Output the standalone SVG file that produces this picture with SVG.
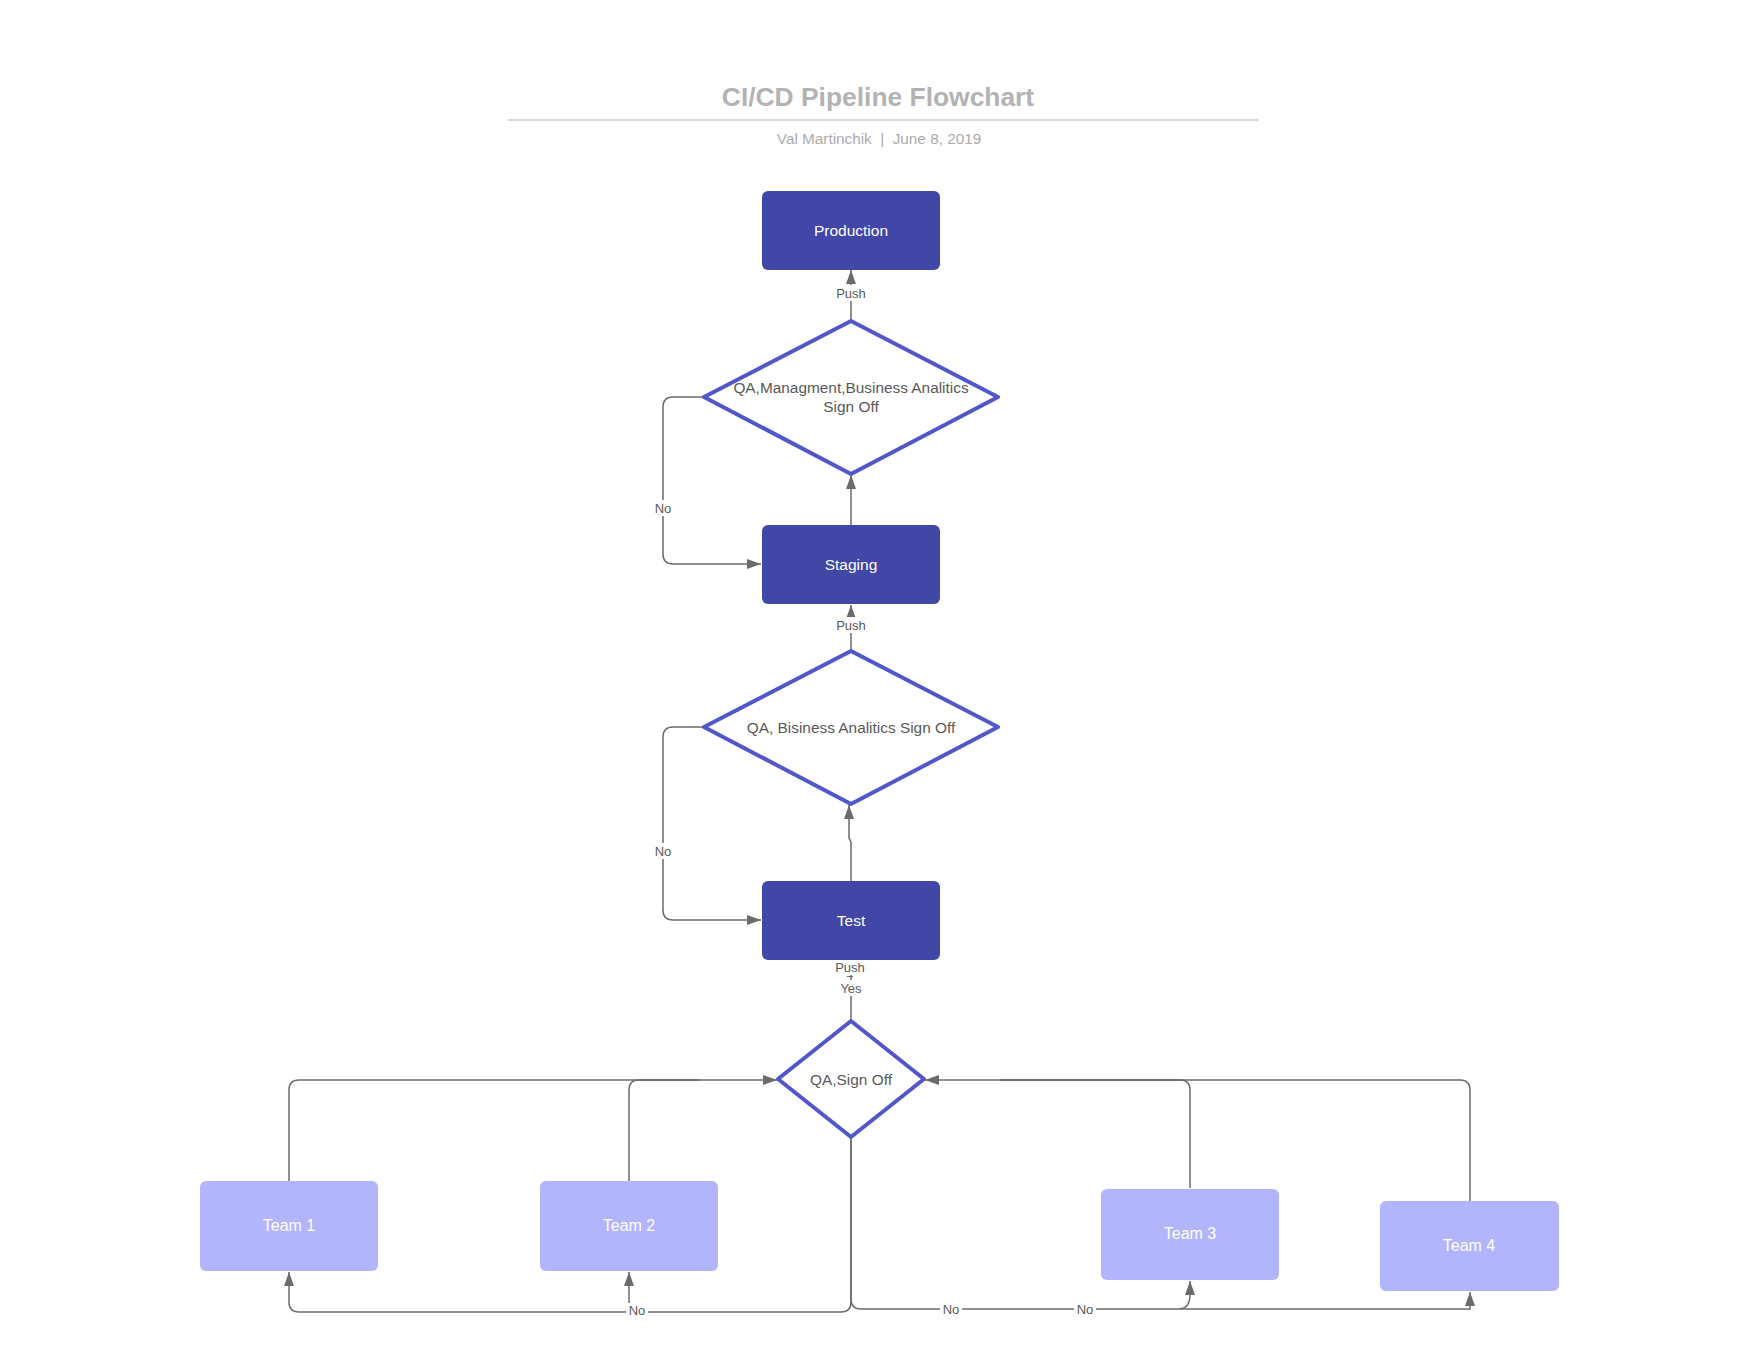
<svg xmlns="http://www.w3.org/2000/svg" width="1760" height="1360" viewBox="0 0 1760 1360">
<style>
  text { font-family: "Liberation Sans", Arial, sans-serif; }
  .title { font-size: 26.4px; font-weight: bold; fill: #b3b3b3; text-anchor: middle; }
  .sub { font-size: 15.3px; fill: #ababab; text-anchor: middle; white-space: pre; }
  .dark { fill: #4247a7; }
  .light { fill: #b3b5fc; }
  .dia { fill: #ffffff; stroke: #5057cb; stroke-width: 4; stroke-linejoin: round; }
  .wt { font-size: 15.5px; fill: #ffffff; text-anchor: middle; dominant-baseline: central; }
  .wt2 { font-size: 16px; fill: #ffffff; text-anchor: middle; dominant-baseline: central; }
  .dt { font-size: 15.4px; fill: #595959; text-anchor: middle; dominant-baseline: central; }
  .conn { fill: none; stroke: #6b6b6b; stroke-width: 1.5; }
  .lbl { font-size: 13px; fill: #595959; text-anchor: middle; dominant-baseline: central; }
  .lbg { fill: #ffffff; }
</style>
<defs>
  <marker id="arr" markerUnits="userSpaceOnUse" markerWidth="14" markerHeight="10" refX="14" refY="5" orient="auto">
    <path d="M0,0 L14,5 L0,10 z" fill="#6b6b6b"/>
  </marker>
</defs>
<rect width="1760" height="1360" fill="#ffffff"/>

<g id="header">
  <text class="title" x="878" y="106">CI/CD Pipeline Flowchart</text>
  <line x1="508" y1="120" x2="1259" y2="120" stroke="#b5b5b5" stroke-width="1.2"/>
  <text class="sub" x="879" y="144">Val Martinchik  |  June 8, 2019</text>
</g>

<g id="connectors">
  <path class="conn" d="M851 321 V270" marker-end="url(#arr)"/>
  <path class="conn" d="M851 525 V475" marker-end="url(#arr)"/>
  <path class="conn" d="M704 397 H673 Q663 397 663 407 V554 Q663 564 673 564 H761" marker-end="url(#arr)"/>
  <path class="conn" d="M851 651 V605" marker-end="url(#arr)"/>
  <path class="conn" d="M851 881 V842 L849 838 V805" marker-end="url(#arr)"/>
  <path class="conn" d="M704 727 H673 Q663 727 663 737 V910 Q663 920 673 920 H761" marker-end="url(#arr)"/>
  <path class="conn" d="M851 1021 V960"/>
  <path class="conn" d="M289 1181 V1090 Q289 1080 299 1080 H777" marker-end="url(#arr)"/>
  <path class="conn" d="M629 1181 V1090 Q629 1080 639 1080 H700"/>
  <path class="conn" d="M1190 1188 V1090 Q1190 1080 1180 1080 H925" marker-end="url(#arr)"/>
  <path class="conn" d="M1470 1201 V1090 Q1470 1080 1460 1080 H1000"/>
  <path class="conn" d="M851 1137 V1302 Q851 1312 841 1312 H299 Q289 1312 289 1302 V1272" marker-end="url(#arr)"/>
  <path class="conn" d="M629 1312 V1272" marker-end="url(#arr)"/>
  <path class="conn" d="M851 1137 V1299 Q851 1309 861 1309 H1178 Q1190 1309 1190 1295 V1281" marker-end="url(#arr)"/>
  <path class="conn" d="M1180 1309 H1470 V1292" marker-end="url(#arr)"/>

  <rect class="lbg" x="834" y="285" width="34" height="16"/>
  <text class="lbl" x="851" y="293">Push</text>
  <rect class="lbg" x="834" y="617" width="34" height="16"/>
  <text class="lbl" x="851" y="625">Push</text>
  <rect class="lbg" x="651" y="500" width="24" height="16"/>
  <text class="lbl" x="663" y="508">No</text>
  <rect class="lbg" x="651" y="843" width="24" height="16"/>
  <text class="lbl" x="663" y="851">No</text>
  <rect class="lbg" x="833" y="960" width="34" height="15"/>
  <text class="lbl" x="850" y="967">Push</text>
  <line x1="847" y1="976.5" x2="853" y2="976.5" stroke="#6b6b6b" stroke-width="1"/>
  <rect class="lbg" x="837" y="980" width="28" height="16"/>
  <text class="lbl" x="851" y="988">Yes</text>
  <rect class="lbg" x="626" y="1303" width="22" height="14"/>
  <text class="lbl" x="637" y="1310">No</text>
  <rect class="lbg" x="940" y="1302" width="22" height="14"/>
  <text class="lbl" x="951" y="1309">No</text>
  <rect class="lbg" x="1074" y="1302" width="22" height="14"/>
  <text class="lbl" x="1085" y="1309">No</text>
</g>

<g id="production">
  <rect class="dark" x="762" y="191" width="178" height="79" rx="6"/>
  <text class="wt" x="851" y="230">Production</text>
</g>
<g id="signoff-mgmt">
  <path class="dia" d="M851 321 L998 397 L851 474 L704 397 Z"/>
  <text class="dt" x="851" y="387">QA,Managment,Business Analitics</text>
  <text class="dt" x="851" y="406">Sign Off</text>
</g>
<g id="staging">
  <rect class="dark" x="762" y="525" width="178" height="79" rx="6"/>
  <text class="wt" x="851" y="564">Staging</text>
</g>
<g id="signoff-ba">
  <path class="dia" d="M851 651 L998 727 L851 804 L704 727 Z"/>
  <text class="dt" x="851" y="727">QA, Bisiness Analitics Sign Off</text>
</g>
<g id="test">
  <rect class="dark" x="762" y="881" width="178" height="79" rx="6"/>
  <text class="wt" x="851" y="920">Test</text>
</g>
<g id="signoff-qa">
  <path class="dia" d="M851 1021 L924 1079 L851 1137 L778 1079 Z"/>
  <text class="dt" x="851" y="1079">QA,Sign Off</text>
</g>
<g id="team1">
  <rect class="light" x="200" y="1181" width="178" height="90" rx="6"/>
  <text class="wt2" x="289" y="1225">Team 1</text>
</g>
<g id="team2">
  <rect class="light" x="540" y="1181" width="178" height="90" rx="6"/>
  <text class="wt2" x="629" y="1225">Team 2</text>
</g>
<g id="team3">
  <rect class="light" x="1101" y="1189" width="178" height="91" rx="6"/>
  <text class="wt2" x="1190" y="1233">Team 3</text>
</g>
<g id="team4">
  <rect class="light" x="1380" y="1201" width="179" height="90" rx="6"/>
  <text class="wt2" x="1469" y="1245">Team 4</text>
</g>
</svg>
